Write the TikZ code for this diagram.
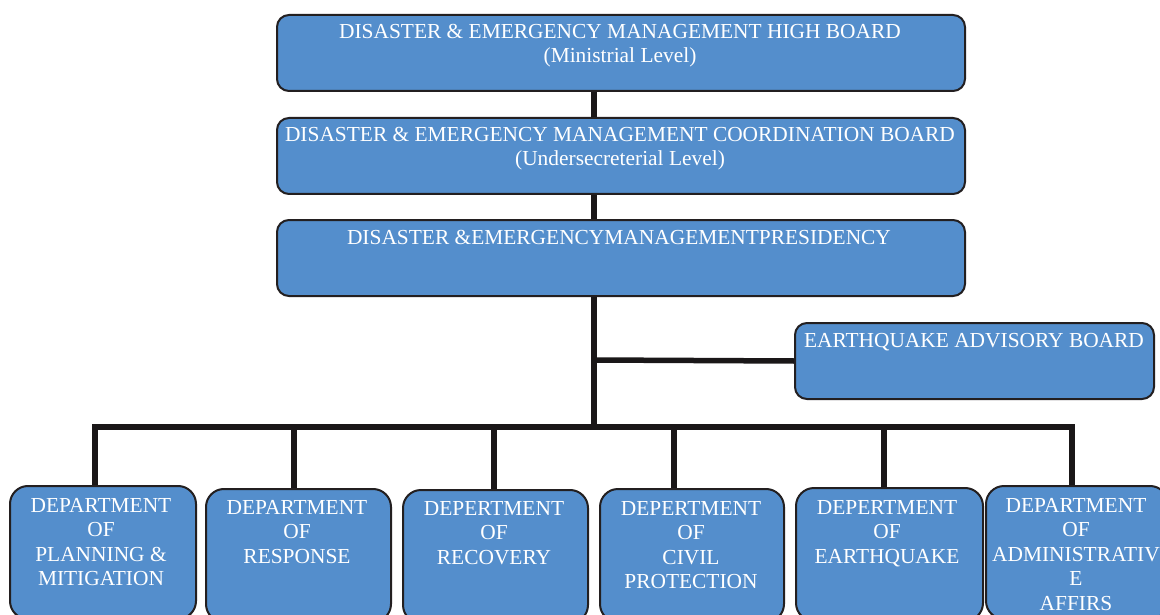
\documentclass[tikz,border=0pt]{standalone}
\usepackage{fontspec}
\setmainfont{Liberation Serif}
\definecolor{boxblue}{RGB}{84,142,204}
\definecolor{edgecol}{RGB}{35,31,32}
\definecolor{linecol}{RGB}{26,23,24}
\begin{document}
\begin{tikzpicture}[x=1pt,y=-1pt,
  box/.style={draw=edgecol, line width=2pt, fill=boxblue, rounded corners=12pt, inner sep=0pt, anchor=north west},
  topbox/.style={box, minimum width=688pt, minimum height=76pt},
  dept/.style={box, rounded corners=18pt, minimum height=133pt},
  lbl/.style={text=white, font=\fontsize{21.4}{24.5}\selectfont, align=center, anchor=north, inner sep=0pt},
  link/.style={draw=linecol, line width=5.5pt}]
\clip (0,0) rectangle (1160,615);
\fill[white] (0,0) rectangle (1160,615);

% boxes
\node[topbox] (b1) at (276,14) {};
\node[topbox] (b2) at (276,117) {};
\node[topbox] (b3) at (276,219) {};
\node[box, minimum width=359pt, minimum height=76pt] (eq) at (794,322) {};
\node[dept, minimum width=186pt] (d1) at (9,485) {};
\node[dept, minimum width=185pt] (d2) at (205,488) {};
\node[dept, minimum width=185pt] (d3) at (402,489) {};
\node[dept, minimum width=184pt] (d4) at (599,488) {};
\node[dept, minimum width=187pt] (d5) at (795,487) {};
\node[dept, minimum width=182pt] (d6) at (985,485) {};

% labels
\node[lbl] (t1) at (620,24) {DISASTER \& EMERGENCY MANAGEMENT HIGH BOARD\\(Ministrial Level)};
\node[lbl] (t2) at (620,127) {DISASTER \& EMERGENCY MANAGEMENT COORDINATION BOARD\\(Undersecreterial Level)};
\node[lbl] (t3) at (619,230) {DISASTER \&EMERGENCYMANAGEMENTPRESIDENCY};
\node[lbl] (teq) at (974,333) {EARTHQUAKE ADVISORY BOARD};
\node[lbl] (td1) at (101,498) {DEPARTMENT\\OF\\PLANNING \&\\MITIGATION};
\node[lbl] (td2) at (297,500) {DEPARTMENT\\OF\\RESPONSE};
\node[lbl] (td3) at (494,501) {DEPERTMENT\\OF\\RECOVERY};
\node[lbl] (td4) at (691,501) {DEPERTMENT\\OF\\CIVIL\\PROTECTION};
\node[lbl] (td5) at (887,500) {DEPERTMENT\\OF\\EARTHQUAKE};
\node[lbl] (td6) at (1076,498) {DEPARTMENT\\OF\\ADMINISTRATIV\\E\\AFFIRS};

% connectors
\coordinate (tk) at (594,0);
\coordinate (hub) at (594,427);
\coordinate (eqj) at (594,360);
\coordinate (j1) at (95,427);
\coordinate (j2) at (294,427);
\coordinate (j3) at (494,427);
\coordinate (j4) at (674,427);
\coordinate (j5) at (884,427);
\coordinate (j6) at (1072,427);
\draw[link] (b1.south -| tk) -- (b2.north -| tk);
\draw[link] (b2.south -| tk) -- (b3.north -| tk);
\draw[link] (b3.south -| tk) -- (hub);
\draw[link] (eqj) -- (eq.west);
\draw[link, line cap=rect] (j1) -- (j6);
\draw[link] (j1) -- (j1 |- d1.north);
\draw[link] (j2) -- (j2 |- d2.north);
\draw[link] (j3) -- (j3 |- d3.north);
\draw[link] (j4) -- (j4 |- d4.north);
\draw[link] (j5) -- (j5 |- d5.north);
\draw[link] (j6) -- (j6 |- d6.north);
\end{tikzpicture}
\end{document}
